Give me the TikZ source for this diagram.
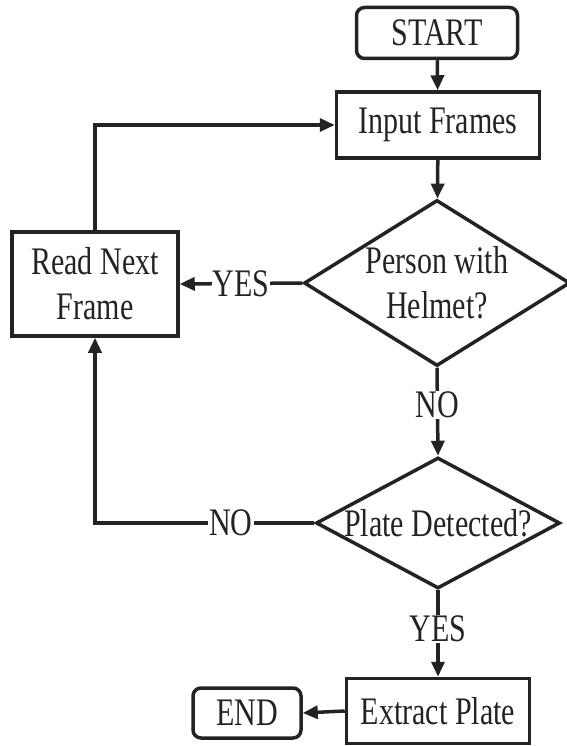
\documentclass[tikz,border=0pt]{standalone}
\usepackage{fontspec}
\setmainfont{Liberation Serif}[FakeStretch=0.77]
\usetikzlibrary{shapes.geometric,arrows.meta}
\definecolor{ink}{RGB}{35,35,35}
\begin{document}
\begin{tikzpicture}[x=1pt,y=1pt,
  every node/.style={font=\fontsize{39}{45}\selectfont, text=ink, align=center},
  procbox/.style={draw=ink, line width=3.5pt, rectangle, inner sep=0pt},
  termbox/.style={procbox, rounded corners=8pt},
  decision/.style={draw=ink, line width=3.5pt, diamond, inner sep=0pt},
  lbl/.style={fill=white, inner sep=1pt},
  conn/.style={draw=ink, line width=3.5pt, -{Triangle[length=15pt,width=13pt]}}
]
\useasboundingbox (0,0) rectangle (566,-746);
\node[termbox, minimum width=161pt, minimum height=51pt] (start) at (437,-33) {START};
\node[procbox, minimum width=203pt, minimum height=66pt] (input) at (438,-125) {Input Frames};
\node[decision, aspect=1.6, minimum width=266pt, minimum height=166pt] (d1) at (437,-283) {Person with\\Helmet?};
\node[procbox, minimum width=166pt, minimum height=104pt] (read) at (95,-284) {Read Next\\Frame};
\node[decision, aspect=1.87, minimum width=244pt, minimum height=131pt] (d2) at (438,-523) {Plate Detected?};
\node[procbox, minimum width=183pt, minimum height=65pt] (extract) at (438,-711) {Extract Plate};
\node[termbox, minimum width=108pt, minimum height=50pt] (end) at (247,-713) {END};

\draw[conn] (start) -- (input);
\draw[conn] (input) -- (d1);
\draw[conn] (d1.west) -- node[lbl] {YES} (read.east);
\draw[conn] (read.north) |- (input.west);
\draw[conn] (d1.south) -- node[lbl, pos=0.42] {NO} (d2.north);
\draw[conn] (d2.west) -| node[lbl, pos=0.19] {NO} (read.south);
\draw[conn] (d2.south) -- node[lbl, pos=0.45] {YES} (extract.north);
\draw[conn] (extract.west) -- (end.east);
\end{tikzpicture}
\end{document}
